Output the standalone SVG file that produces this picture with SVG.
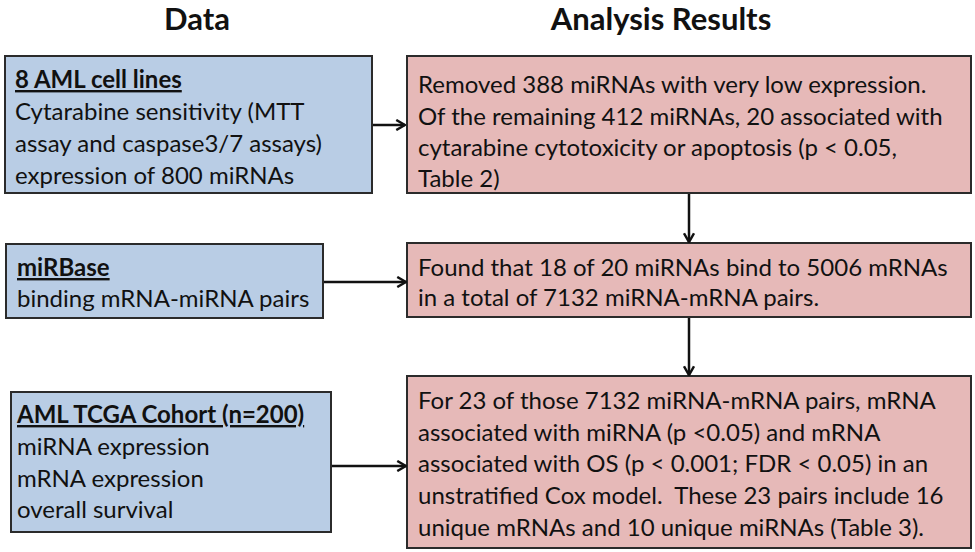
<svg xmlns="http://www.w3.org/2000/svg" width="975" height="552" viewBox="0 0 975 552">
<style>
.bg{fill:#ffffff}
.blue{fill:#b9cde5;stroke:#2b2b2b;stroke-width:2}
.pink{fill:#e6b9b8;stroke:#2b2b2b;stroke-width:2}
text{font-family:Lato,"Open Sans","Liberation Sans",sans-serif;font-size:24px;fill:#111}
.hdr{font-weight:bold;font-size:31px;text-anchor:middle}
.ttl{font-weight:bold;text-decoration:underline}
.conn line{stroke:#111;stroke-width:2.5;fill:none}
</style>
<defs>
<marker id="arr" viewBox="0 0 10 10" refX="9" refY="5" markerWidth="5" markerHeight="5" orient="auto" markerUnits="strokeWidth">
<polyline points="2,1 9,5 2,9" fill="none" stroke="#111" stroke-width="2"/>
</marker>
</defs>
<rect class="bg" x="0" y="0" width="975" height="552"/>
<g id="headers">
<text class="hdr" x="197" y="30">Data</text>
<text class="hdr" x="661" y="30">Analysis Results</text>
</g>
<g id="data1">
<rect class="blue" x="5" y="56" width="367" height="137"/>
<text class="ttl" x="15" y="88">8 AML cell lines</text>
<text x="15" y="120">Cytarabine sensitivity (MTT</text>
<text x="15" y="152">assay and caspase3/7 assays)</text>
<text x="15" y="184">expression of 800 miRNAs</text>
</g>
<g id="data2">
<rect class="blue" x="6" y="244" width="317" height="74"/>
<text class="ttl" x="17" y="276">miRBase</text>
<text x="17" y="307">binding mRNA-miRNA pairs</text>
</g>
<g id="data3">
<rect class="blue" x="11" y="392" width="320" height="140"/>
<text class="ttl" x="17" y="423">AML TCGA Cohort (n=200)</text>
<text x="17" y="455">miRNA expression</text>
<text x="17" y="487">mRNA expression</text>
<text x="17" y="518">overall survival</text>
</g>
<g id="result1">
<rect class="pink" x="407" y="56" width="564" height="137"/>
<text x="418" y="93">Removed 388 miRNAs with very low expression.</text>
<text x="418" y="124.5">Of the remaining 412 miRNAs, 20 associated with</text>
<text x="418" y="156">cytarabine cytotoxicity or apoptosis (p &lt; 0.05,</text>
<text x="418" y="187">Table 2)</text>
</g>
<g id="result2">
<rect class="pink" x="407" y="243" width="564" height="74"/>
<text x="418" y="276">Found that 18 of 20 miRNAs bind to 5006 mRNAs</text>
<text x="418" y="306">in a total of 7132 miRNA-mRNA pairs.</text>
</g>
<g id="result3">
<rect class="pink" x="407" y="376" width="564" height="172"/>
<text x="418" y="409">For 23 of those 7132 miRNA-mRNA pairs, mRNA</text>
<text x="418" y="441">associated with miRNA (p &lt;0.05) and mRNA</text>
<text x="418" y="472">associated with OS (p &lt; 0.001; FDR &lt; 0.05) in an</text>
<text x="418" y="504" xml:space="preserve">unstratified Cox model.  These 23 pairs include 16</text>
<text x="418" y="536">unique mRNAs and 10 unique miRNAs (Table 3).</text>
</g>
<g id="connectors" class="conn">
<line x1="373" y1="125" x2="405" y2="125" marker-end="url(#arr)"/>
<line x1="324" y1="282" x2="406" y2="282" marker-end="url(#arr)"/>
<line x1="332" y1="466" x2="406" y2="466" marker-end="url(#arr)"/>
<line x1="689" y1="194" x2="689" y2="242" marker-end="url(#arr)"/>
<line x1="689" y1="318" x2="689" y2="375" marker-end="url(#arr)"/>
</g>
</svg>
